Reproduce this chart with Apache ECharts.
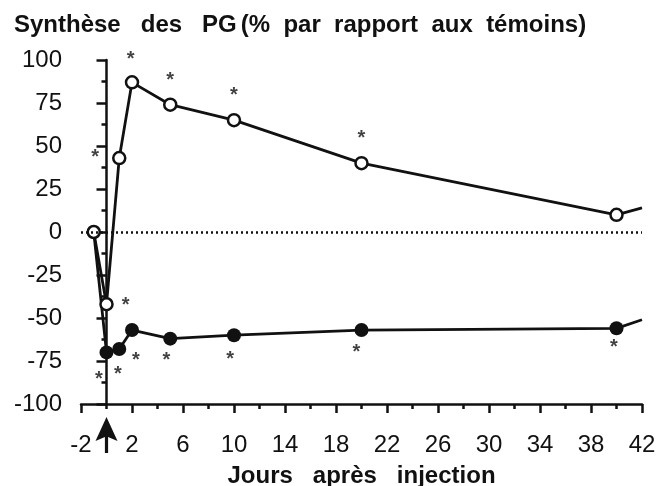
<!DOCTYPE html>
<html>
<head>
<meta charset="utf-8">
<script src="https://cdn.jsdelivr.net/npm/echarts@6/dist/echarts.min.js"></script>
<style>
  html, body { margin: 0; padding: 0; background: #fff; }
  #chart { width: 660px; height: 486px; }
</style>
</head>
<body>
<div id="chart"></div>
<script>
// Days after injection (x) and % vs. controls (y)
const openDays = [-1, 0, 1, 2, 5, 10, 20, 40, 42];
const openValues = [0, -42, 43, 87, 74, 65, 40, 10, 14];
const filledDays = [-1, 0, 1, 2, 5, 10, 20, 40, 42];
const filledValues = [0, -70, -68, -57, -62, -60, -57, -56, -51];

// significance stars (*)
const starsOpen = [[-0.9, 46], [1.9, 103], [5, 91], [10, 82], [20, 57], [1.5, -40]];
const starsFilled = [[-0.6, -83], [0.9, -80], [2.3, -72], [4.7, -72], [9.7, -71], [19.6, -67], [39.8, -64.5]];

const xMajor = [-2, 2, 6, 10, 14, 18, 22, 26, 30, 34, 38, 42];
const injectionDay = 0;

const FONT = '"Liberation Sans", Arial, Helvetica, sans-serif';
const INK = '#111';

function pairs(xs, ys, lastNoSymbol) {
    return xs.map((x, i) => {
        const item = { value: [x, ys[i]] };
        // last one only carries the line to the edge of the plot
        if (i === xs.length - 1 && lastNoSymbol) item.symbol = 'none';
        return item;
    });
}

const chart = echarts.init(document.getElementById('chart'), null, { renderer: 'canvas' });

const filledData = pairs(filledDays, filledValues, true);
filledData[0].symbol = 'none'; // shared with the open series

const starLabel = {
    show: true,
    position: 'inside',
    formatter: '*',
    fontFamily: FONT,
    fontSize: 20,
    fontWeight: 'bold',
    color: INK,
    offset: [0, 5]
};

chart.setOption({
    backgroundColor: '#fff',
    animation: false,
    title: {
        left: 9,
        top: 8,
        text: '{b|Synthèse   des   PG}{n|(%  par  rapport  aux  témoins)}',
        textStyle: {
            rich: {
                b: { fontFamily: FONT, fontSize: 24, fontWeight: 'bold', color: INK },
                n: { fontFamily: FONT, fontSize: 24, color: INK, padding: [0, 0, 0, 4] }
            }
        }
    },
    grid: { left: 81, right: 18, top: 60, bottom: 82, outerBoundsMode: 'none' },
    xAxis: [{
        type: 'value',
        min: -2,
        max: 42,
        interval: 2,
        axisLine: { onZero: false, lineStyle: { color: INK, width: 2.5 } },
        axisTick: { length: 5, lineStyle: { color: INK, width: 2.5 } },
        axisLabel: { show: false },
        splitLine: { show: false },
        name: 'Jours   après   injection',
        nameLocation: 'middle',
        nameGap: 60,
        nameTextStyle: { fontFamily: FONT, fontSize: 24, fontWeight: 'bold', color: INK }
    }, {
        type: 'value',
        position: 'bottom',
        min: -2,
        max: 42,
        axisLine: { show: false, onZero: false },
        axisTick: { show: true, length: 9, customValues: xMajor, lineStyle: { color: INK, width: 2.5 } },
        axisLabel: {
            customValues: xMajor,
            margin: 29,
            fontFamily: FONT,
            fontSize: 24,
            color: INK
        },
        splitLine: { show: false }
    }],
    yAxis: {
        type: 'value',
        min: -100,
        max: 100,
        interval: 25,
        axisLine: { show: true, lineStyle: { color: INK, width: 2.5 } },
        axisTick: { show: true, length: 10, lineStyle: { color: INK, width: 2.5 } },
        minorTick: { show: true, splitNumber: 2, length: 5, lineStyle: { color: INK, width: 2.5 } },
        axisLabel: { margin: 19, fontFamily: FONT, fontSize: 24, color: INK },
        splitLine: { show: false }
    },
    series: [{
        name: 'zero',
        type: 'line',
        data: [],
        markLine: {
            silent: true,
            symbol: 'none',
            label: { show: false },
            lineStyle: { color: INK, type: [2, 3], width: 2.5 },
            data: [{ yAxis: 0 }]
        }
    }, {
        name: 'filled',
        type: 'line',
        data: filledData,
        symbol: 'circle',
        symbolSize: 14,
        itemStyle: { color: INK },
        lineStyle: { color: INK, width: 2.8 },
        z: 3
    }, {
        name: 'open',
        type: 'line',
        data: pairs(openDays, openValues, true),
        symbol: 'circle',
        symbolSize: 12,
        itemStyle: { color: '#fff', borderColor: INK, borderWidth: 2.5 },
        lineStyle: { color: INK, width: 2.8 },
        z: 4
    }, {
        name: 'stars',
        type: 'scatter',
        data: starsOpen.concat(starsFilled),
        symbolSize: 1,
        itemStyle: { color: 'rgba(0,0,0,0)' },
        label: starLabel,
        clip: false,
        silent: true,
        markPoint: {
            silent: true,
            symbol: 'path://M11,0 L22,24 L12.6,20 L12.6,36 L9.4,36 L9.4,20 L0,24 Z',
            symbolSize: [22, 36],
            symbolOffset: [0, 31],
            itemStyle: { color: INK },
            label: { show: false },
            data: [{ coord: [injectionDay, -100] }]
        }
    }]
});
</script>
</body>
</html>
